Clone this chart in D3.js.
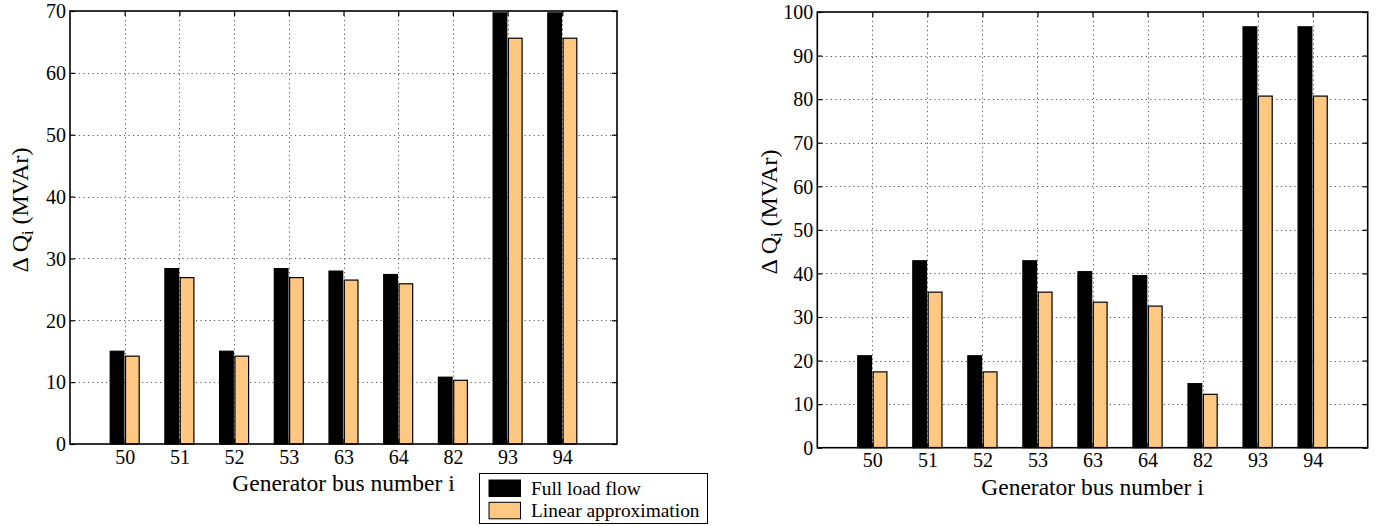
<!DOCTYPE html>
<html>
<head>
<meta charset="utf-8">
<script src="https://cdn.jsdelivr.net/npm/d3@7"></script>
<style>
  body { margin: 0; background: #fff; }
  svg { display: block; }
  text { font-family: "Liberation Serif", "DejaVu Serif", serif; fill: #000; }
</style>
</head>
<body>
<svg id="chart" width="1390" height="526"></svg>
<script>
// ---- data ----
const categories = ["50", "51", "52", "53", "63", "64", "82", "93", "94"];
const seriesNames = ["Full load flow", "Linear approximation"];
const seriesColors = ["#000000", "#ffc882"];

const leftFull   = [15.0, 28.35, 15.0, 28.35, 27.95, 27.4, 10.8, 69.7, 69.7];
const leftLinear = [14.2, 26.9, 14.2, 26.9, 26.5, 25.9, 10.3, 65.6, 65.6];
const leftTicks  = [0, 10, 20, 30, 40, 50, 60, 70];

const rightFull   = [21.1, 42.9, 21.1, 42.9, 40.4, 39.5, 14.7, 96.6, 96.6];
const rightLinear = [17.4, 35.7, 17.4, 35.7, 33.4, 32.5, 12.25, 80.7, 80.7];
const rightTicks  = [0, 10, 20, 30, 40, 50, 60, 70, 80, 90, 100];

const xTitle = "Generator bus number i";

const svg = d3.select("#chart");

function drawChart(opts) {
  const { left, top, right, bottom, yMax, ticks, series, labelX, labelY } = opts;
  const g = svg.append("g");
  const x = d3.scaleLinear().domain([0, categories.length + 1]).range([left, right]);
  const y = d3.scaleLinear().domain([0, yMax]).range([bottom, top]);
  const barW = x(0.25) - x(0);
  const offsets = [-0.14, 0.14];

  // grid
  const grid = g.append("g").attr("stroke", "#555").attr("stroke-width", 1)
    .attr("stroke-dasharray", "1.2,3.3");
  grid.selectAll("line.h").data(ticks.filter(t => t > 0 && t < yMax)).join("line")
    .attr("x1", left).attr("x2", right)
    .attr("y1", d => Math.round(y(d)) + 0.5).attr("y2", d => Math.round(y(d)) + 0.5);
  grid.selectAll("line.v").data(categories).join("line")
    .attr("x1", (d, i) => Math.round(x(i + 1)) + 0.5).attr("x2", (d, i) => Math.round(x(i + 1)) + 0.5)
    .attr("y1", top).attr("y2", bottom);

  // bars
  series.forEach((vals, s) => {
    g.append("g").selectAll("rect").data(vals).join("rect")
      .attr("x", (d, i) => x(i + 1 + offsets[s]) - barW / 2)
      .attr("width", barW)
      .attr("y", d => y(d))
      .attr("height", d => y(0) - y(d))
      .attr("fill", seriesColors[s])
      .attr("stroke", "#000")
      .attr("stroke-width", 1.2);
  });

  // frame
  g.append("rect").attr("x", left).attr("y", top)
    .attr("width", right - left).attr("height", bottom - top)
    .attr("fill", "none").attr("stroke", "#000").attr("stroke-width", 1.6);

  // axes
  const yAxisL = d3.axisLeft(y).tickValues(ticks).tickSize(-5).tickPadding(4).tickFormat(d3.format("d"));
  const yAxisR = d3.axisRight(y).tickValues(ticks).tickSize(-5).tickFormat("");
  const xAxisB = d3.axisBottom(x).tickValues(d3.range(1, categories.length + 1))
    .tickSize(-5).tickPadding(5.5).tickFormat(d => categories[d - 1]);
  const xAxisT = d3.axisTop(x).tickValues(d3.range(1, categories.length + 1)).tickSize(-5).tickFormat("");

  const styleAx = sel => {
    sel.select(".domain").remove();
    sel.selectAll(".tick line").attr("stroke", "#000").attr("stroke-width", 1.2);
    sel.selectAll("text").attr("font-size", 20).attr("font-family", "Liberation Serif").attr("fill", "#000");
  };
  g.append("g").attr("transform", `translate(${left},0)`).call(yAxisL).call(styleAx)
    .selectAll("text").attr("dy", "0.34em");
  g.append("g").attr("transform", `translate(${right},0)`).call(yAxisR).call(styleAx);
  g.append("g").attr("transform", `translate(0,${bottom})`).call(xAxisB).call(styleAx);
  g.append("g").attr("transform", `translate(0,${top})`).call(xAxisT).call(styleAx);

  // x title
  g.append("text").attr("x", (left + right) / 2).attr("y", bottom + 47)
    .attr("text-anchor", "middle").attr("font-size", 23.5).text(xTitle);

  // y title
  const yt = g.append("text").attr("transform", `translate(${labelX},${labelY}) rotate(-90)`)
    .attr("text-anchor", "middle").attr("font-size", 24);
  yt.append("tspan").text("\u0394 Q");
  yt.append("tspan").attr("font-size", 16).attr("dy", 5).text("i");
  yt.append("tspan").attr("dy", -5).text(" (MVAr)");
}

drawChart({ left: 70, top: 11, right: 617, bottom: 444, yMax: 70, ticks: leftTicks,
            series: [leftFull, leftLinear], labelX: 28, labelY: 210 });
drawChart({ left: 817.3, top: 12, right: 1367.7, bottom: 447.7, yMax: 100, ticks: rightTicks,
            series: [rightFull, rightLinear], labelX: 777, labelY: 212 });

// legend
const lg = svg.append("g");
lg.append("rect").attr("x", 479.5).attr("y", 473.5).attr("width", 228).attr("height", 50)
  .attr("fill", "#fff").attr("stroke", "#000").attr("stroke-width", 1);
seriesNames.forEach((name, i) => {
  lg.append("rect").attr("x", 489).attr("y", 480 + i * 22.3).attr("width", 31.5).attr("height", 16.5)
    .attr("fill", seriesColors[i]).attr("stroke", "#000").attr("stroke-width", 1);
  lg.append("text").attr("x", 531).attr("y", 494.5 + i * 22.3).attr("font-size", 19.4).text(name);
});
</script>
</body>
</html>
